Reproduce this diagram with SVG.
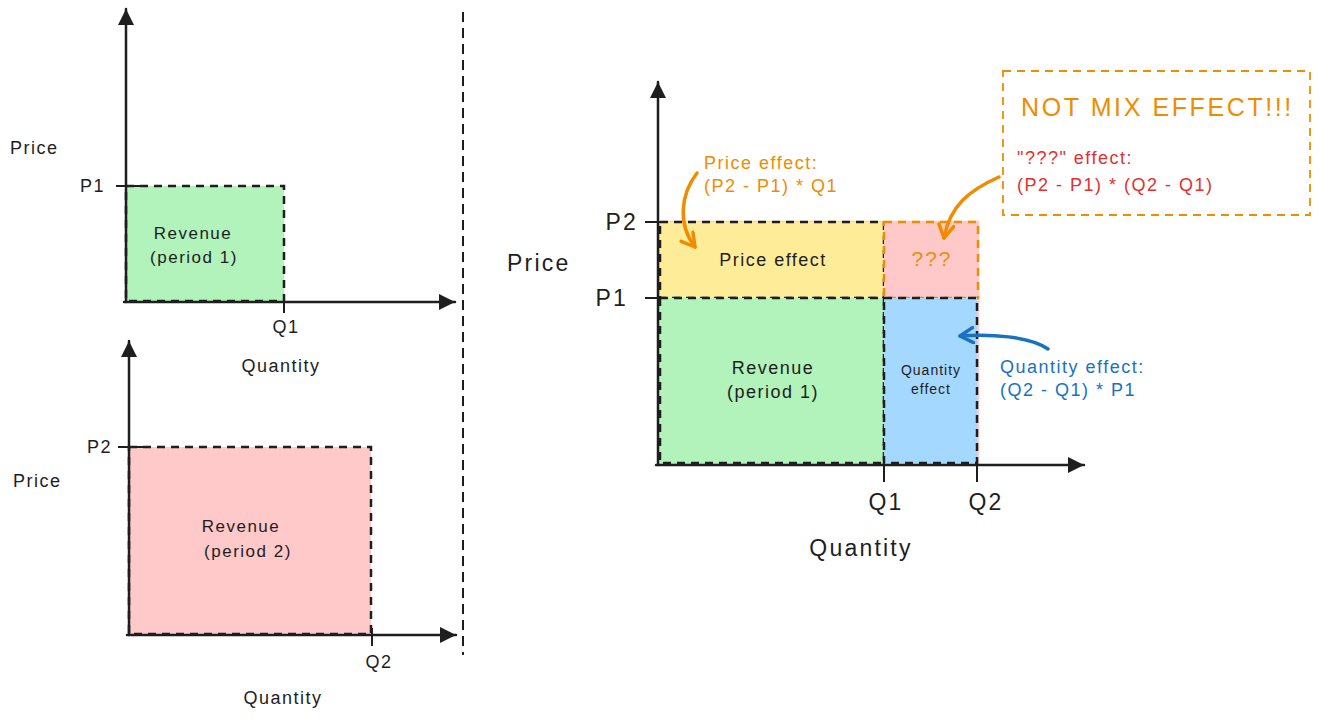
<svg xmlns="http://www.w3.org/2000/svg" width="1320" height="720" viewBox="0 0 1320 720">
<style>
text{font-family:"Liberation Sans","DejaVu Sans",sans-serif;fill:#1e1e1e;}
.s{font-size:17px;letter-spacing:1.5px;}
.m{font-size:18px;letter-spacing:1.5px;}
.l{font-size:23px;letter-spacing:2.2px;}
.c{text-anchor:middle;}
.e{text-anchor:end;}
.axis{stroke:#1e1e1e;stroke-width:2.5;fill:none;stroke-linecap:round;}
.tick{stroke:#1e1e1e;stroke-width:2;fill:none;}
.dash{stroke:#1e1e1e;stroke-width:2.5;stroke-dasharray:8 6;}
.or{fill:#f08c00;}
.red{fill:#e03131;}
.blue{fill:#1971c2;}
.conn{fill:none;stroke-width:3.5;stroke-linecap:round;}
</style>
<defs>
<marker id="ah" viewBox="0 0 16 16" refX="16" refY="8" markerWidth="16" markerHeight="16" markerUnits="userSpaceOnUse" orient="auto">
<path d="M0,0 L16,8 L0,16 Z" fill="#1e1e1e"/>
</marker>
<marker id="ho" viewBox="0 0 18 18" refX="15" refY="9" markerWidth="18" markerHeight="18" markerUnits="userSpaceOnUse" orient="auto">
<path d="M2,1.5 L15,9 L2,16.5" fill="none" stroke="#f08c00" stroke-width="3.5" stroke-linecap="round" stroke-linejoin="round"/>
</marker>
<marker id="hb" viewBox="0 0 18 18" refX="15" refY="9" markerWidth="18" markerHeight="18" markerUnits="userSpaceOnUse" orient="auto">
<path d="M2,1.5 L15,9 L2,16.5" fill="none" stroke="#1971c2" stroke-width="3.5" stroke-linecap="round" stroke-linejoin="round"/>
</marker>
</defs>

<!-- separator -->
<line id="separator" x1="463" y1="12" x2="463" y2="655" stroke="#1e1e1e" stroke-width="2" stroke-dasharray="10 6"/>

<!-- Chart 1: period 1 -->
<g id="chart1">
<rect id="rev1" x="126" y="186" width="158" height="115" fill="#b2f2bb" class="dash"/>
<line class="axis" x1="126" y1="302" x2="126" y2="9" marker-end="url(#ah)"/>
<line class="axis" x1="124" y1="302" x2="455" y2="302" marker-end="url(#ah)"/>
<line class="tick" x1="116" y1="186" x2="141" y2="186"/>
<line class="tick" x1="284" y1="300" x2="284" y2="313"/>
<text class="m" x="10" y="154">Price</text>
<text class="m e" x="105" y="192">P1</text>
<text class="s c" x="193" y="239">Revenue</text>
<text class="s c" x="194" y="263">(period 1)</text>
<text class="m c" x="286" y="333">Q1</text>
<text class="m c" x="281" y="372">Quantity</text>
</g>

<!-- Chart 2: period 2 -->
<g id="chart2">
<rect id="rev2" x="129" y="447" width="242" height="187" fill="#ffc9c9" class="dash"/>
<line class="axis" x1="129" y1="635" x2="129" y2="341" marker-end="url(#ah)"/>
<line class="axis" x1="127" y1="635" x2="456" y2="635" marker-end="url(#ah)"/>
<line class="tick" x1="118" y1="447" x2="143" y2="447"/>
<line class="tick" x1="372" y1="628" x2="372" y2="646"/>
<text class="m e" x="112" y="453">P2</text>
<text class="m" x="13" y="487">Price</text>
<text class="s c" x="241" y="532">Revenue</text>
<text class="s c" x="248" y="557">(period 2)</text>
<text class="m c" x="379" y="668">Q2</text>
<text class="m c" x="283" y="704">Quantity</text>
</g>

<!-- Chart 3: decomposition -->
<g id="chart3">
<rect id="rev2-under" x="660" y="222" width="318" height="241" fill="#ffc9c9" stroke="#ffc9c9" stroke-width="2.5"/>
<g id="price-effect">
<rect x="660" y="222" width="224" height="76" fill="#ffec99" class="dash"/>
<text class="m c" x="773" y="266">Price effect</text>
</g>
<g id="mix-box">
<rect x="884" y="222" width="94" height="76" fill="#ffc9c9" stroke="#f08c00" stroke-width="2.5" stroke-dasharray="8 6"/>
<text class="or c" x="932" y="266" font-size="21" letter-spacing="2">???</text>
</g>
<g id="revenue1">
<rect x="660" y="298" width="224" height="165" fill="#b2f2bb" class="dash"/>
<text class="m c" x="773" y="374">Revenue</text>
<text class="m c" x="773" y="398">(period 1)</text>
</g>
<g id="quantity-effect">
<rect x="884" y="298" width="93" height="165" fill="#a5d8ff" class="dash"/>
<text class="c" x="931" y="375" font-size="14" letter-spacing="1">Quantity</text>
<text class="c" x="931" y="394" font-size="14" letter-spacing="1">effect</text>
</g>
<line class="axis" x1="658" y1="465" x2="658" y2="82" marker-end="url(#ah)"/>
<line class="axis" x1="656" y1="465" x2="1084" y2="465" marker-end="url(#ah)"/>
<line class="tick" x1="645" y1="222" x2="662" y2="222"/>
<line class="tick" x1="645" y1="298" x2="662" y2="298"/>
<line class="tick" x1="884" y1="463" x2="884" y2="482"/>
<line class="tick" x1="977" y1="463" x2="977" y2="482"/>
<text class="l" x="507" y="271">Price</text>
<text class="l e" x="638" y="230">P2</text>
<text class="l e" x="628" y="306">P1</text>
<text class="l c" x="886" y="510">Q1</text>
<text class="l c" x="986" y="510">Q2</text>
<text class="l c" x="861" y="556">Quantity</text>
</g>

<!-- annotations -->
<g id="note-price">
<text class="m or" x="704" y="169">Price effect:</text>
<text class="m or" x="704" y="192">(P2 - P1) * Q1</text>
</g>
<g id="note-quantity">
<text class="m blue" x="1000" y="373">Quantity effect:</text>
<text class="m blue" x="1000" y="396">(Q2 - Q1) * P1</text>
</g>
<g id="note-mix">
<rect x="1003" y="71" width="307" height="144" fill="none" stroke="#f08c00" stroke-width="1.8" stroke-dasharray="8 6"/>
<text class="or" x="1021" y="116" font-size="25" letter-spacing="2.6">NOT MIX EFFECT!!!</text>
<text class="m red" x="1017" y="164">"???" effect:</text>
<text class="m red" x="1017" y="191">(P2 - P1) * (Q2 - Q1)</text>
</g>

<!-- connectors -->
<g id="connectors">
<path class="conn" stroke="#f08c00" d="M697,173 C680,195 678,225 695,247" marker-end="url(#ho)"/>
<path class="conn" stroke="#f08c00" d="M999,177 C970,190 950,205 944,238" marker-end="url(#ho)"/>
<path class="conn" stroke="#1971c2" d="M1048,349 C1030,336 990,334 960,336" marker-end="url(#hb)"/>
</g>
</svg>
